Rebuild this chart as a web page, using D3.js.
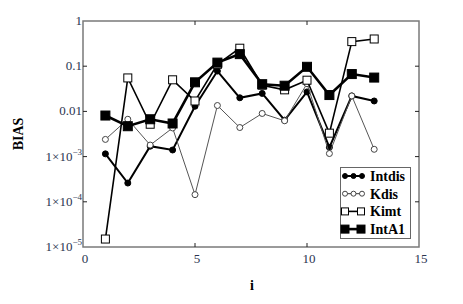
<!DOCTYPE html>
<html>
<head>
<meta charset="utf-8">
<script src="https://cdn.jsdelivr.net/npm/d3@7"></script>
<style>
  body { margin: 0; background: #fff; }
  svg text { font-family: "Times New Roman", "Liberation Serif", "DejaVu Serif", serif; }
</style>
</head>
<body>
<div id="chart"></div>
<script>
// values (x = i, y = BIAS, log scale)
const iValues = [1, 2, 3, 4, 5, 6, 7, 8, 9, 10, 11, 12, 13];
const intdis = [1.15e-3, 2.6e-4, 1.7e-3, 1.4e-3, 0.013, 0.078, 0.02, 0.025, 0.0064, 0.027, 1.6e-3, 0.022, 0.017];
const kdis   = [2.4e-3, 6.7e-3, 1.8e-3, 4.3e-3, 1.44e-4, 0.0135, 4.4e-3, 9e-3, 0.0062, 0.041, 1.17e-3, 0.022, 1.45e-3];
const kimt   = [1.5e-5, 0.055, 5.2e-3, 0.05, 0.017, 0.11, 0.25, 0.038, 0.03, 0.049, 3.3e-3, 0.35, 0.4];
const intA1  = [8.1e-3, 4.7e-3, 6.7e-3, 5.4e-3, 0.044, 0.12, 0.185, 0.04, 0.037, 0.097, 0.023, 0.067, 0.056];
const xTicks = [0, 5, 10, 15];
const yTicks = [1e-5, 1e-4, 1e-3, 0.01, 0.1, 1];

const width = 463;
const height = 304;
const margin = { top: 21, right: 44, bottom: 57, left: 83 };
const serif = "'Liberation Serif', 'Times New Roman', 'DejaVu Serif', serif";

const svg = d3.select("#chart")
    .append("svg")
    .attr("width", width)
    .attr("height", height)
    .attr("font-family", serif);

const x = d3.scaleLinear()
    .domain([0, 15])
    .range([margin.left, width - margin.right]);

const y = d3.scaleLog()
    .domain([1e-5, 1])
    .range([height - margin.bottom, margin.top]);

// frame
svg.append("rect")
    .attr("x", x(0))
    .attr("y", y(1))
    .attr("width", x(15) - x(0))
    .attr("height", y(1e-5) - y(1))
    .attr("fill", "none")
    .attr("stroke", "#7a7a7a")
    .attr("stroke-width", 1.5);

// ticks pointing inward on all four sides
const tickLen = 4;
const inner = xTicks.slice(1, -1);
const innerY = yTicks.slice(1, -1);
svg.selectAll("line.xb")
    .data(inner)
    .enter()
    .append("line")
    .attr("x1", d => x(d)).attr("x2", d => x(d))
    .attr("y1", y(1e-5)).attr("y2", y(1e-5) - tickLen)
    .attr("stroke", "#222").attr("stroke-width", 1);
svg.selectAll("line.xt")
    .data(inner)
    .enter()
    .append("line")
    .attr("x1", d => x(d)).attr("x2", d => x(d))
    .attr("y1", y(1)).attr("y2", y(1) + tickLen)
    .attr("stroke", "#222").attr("stroke-width", 1);
svg.selectAll("line.yl")
    .data(innerY)
    .enter()
    .append("line")
    .attr("x1", x(0)).attr("x2", x(0) + tickLen)
    .attr("y1", d => y(d)).attr("y2", d => y(d))
    .attr("stroke", "#222").attr("stroke-width", 1);
svg.selectAll("line.yr")
    .data(innerY)
    .enter()
    .append("line")
    .attr("x1", x(15)).attr("x2", x(15) - tickLen)
    .attr("y1", d => y(d)).attr("y2", d => y(d))
    .attr("stroke", "#222").attr("stroke-width", 1);

// x tick labels
svg.selectAll("text.xlab")
    .data(xTicks)
    .enter()
    .append("text")
    .attr("font-family", serif)
    .attr("x", d => x(d) + 2)
    .attr("y", y(1e-5) + 16)
    .attr("text-anchor", "middle")
    .style("font-size", "13px")
    .style("fill", "#2b3550")
    .text(d => d);

// y tick labels: 1, 0.1, 0.01, then 1×10^-n
svg.selectAll("text.ylab")
    .data(yTicks)
    .enter()
    .append("text")
    .attr("font-family", serif)
    .attr("x", x(0) - 1)
    .attr("y", d => y(d) + 4)
    .attr("text-anchor", "end")
    .style("font-size", "13px")
    .style("fill", "#2b3550")
    .each(function (d) {
        const t = d3.select(this);
        const e = Math.round(Math.log10(d));
        if (e >= -2) {
            t.text(d);
        } else {
            t.append("tspan").text("1\u00d710");
            t.append("tspan").attr("dy", -6).style("font-size", "9px").text("\u2212" + (-e));
        }
    });

// axis titles
svg.append("text")
    .attr("font-family", serif)
    .attr("transform", "translate(23,134) rotate(-90)")
    .attr("text-anchor", "middle")
    .style("font-size", "14px")
    .style("font-weight", "bold")
    .text("BIAS");

svg.append("text")
    .attr("font-family", serif)
    .attr("x", 252)
    .attr("y", 290)
    .attr("text-anchor", "middle")
    .style("font-size", "14px")
    .style("font-weight", "bold")
    .text("i");

const series = [
    { name: "Intdis", values: intdis, stroke: "#000", sw: 2, shape: "circle", size: 3, fill: "#000" },
    { name: "Kdis", values: kdis, stroke: "#555", sw: 1, shape: "circle", size: 3, fill: "#fff" },
    { name: "Kimt", values: kimt, stroke: "#000", sw: 1.6, shape: "square", size: 8, fill: "#fff" },
    { name: "IntA1", values: intA1, stroke: "#000", sw: 2.6, shape: "square", size: 9, fill: "#000" }
];

const line = d3.line()
    .x((d, i) => x(iValues[i]))
    .y(d => y(d));

function drawMarker(g, shape, cx, cy, s) {
    if (shape === "circle") {
        g.append("circle")
            .attr("cx", cx).attr("cy", cy).attr("r", s.size)
            .attr("fill", s.fill).attr("stroke", s.fill === "#000" ? "#000" : "#444")
            .attr("stroke-width", 1);
    } else {
        g.append("rect")
            .attr("x", cx - s.size / 2).attr("y", cy - s.size / 2)
            .attr("width", s.size).attr("height", s.size)
            .attr("fill", s.fill).attr("stroke", "#000")
            .attr("stroke-width", 1);
    }
}

series.forEach(s => {
    const g = svg.append("g");
    g.append("path")
        .datum(s.values)
        .attr("d", line)
        .attr("fill", "none")
        .attr("stroke", s.stroke)
        .attr("stroke-width", s.sw);
    s.values.forEach((v, i) => drawMarker(g, s.shape, x(iValues[i]), y(v), s));
});

// legend
const lg = svg.append("g");
lg.append("rect")
    .attr("x", 340.5).attr("y", 167.5)
    .attr("width", 70).attr("height", 71)
    .attr("fill", "#fff")
    .attr("stroke", "#666")
    .attr("stroke-width", 1);

series.forEach((s, k) => {
    const ly = 176 + k * 17.7;
    lg.append("line")
        .attr("x1", 343).attr("x2", 364)
        .attr("y1", ly).attr("y2", ly)
        .attr("stroke", s.stroke === "#555" ? "#333" : "#000")
        .attr("stroke-width", s.sw);
    const pts = s.shape === "circle" ? [345, 353.5, 362] : [345, 361];
    const ms = Object.assign({}, s, { size: s.shape === "circle" ? 2.5 : s.size - 1 });
    pts.forEach(px => drawMarker(lg, s.shape, px, ly, ms));
    lg.append("text")
        .attr("font-family", serif)
        .attr("x", 370)
        .attr("y", ly + 5)
        .style("font-size", "14px")
        .style("font-weight", "bold")
        .text(s.name);
});
</script>
</body>
</html>
